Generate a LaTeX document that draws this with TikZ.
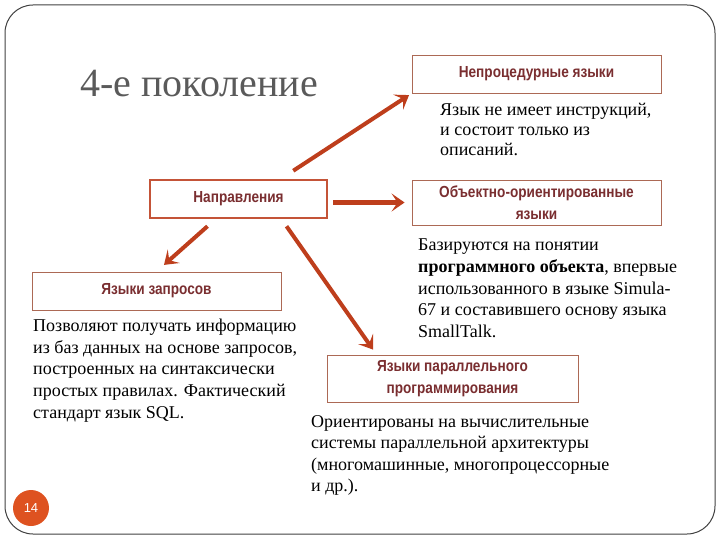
\documentclass[tikz,border=0pt]{standalone}
\usepackage{fontspec}
\setmainfont{Liberation Serif}
\newfontfamily\headfont[FakeStretch=0.85]{Liberation Sans}
\newfontfamily\numfont{Liberation Sans}
\usetikzlibrary{arrows.meta,calc}
\definecolor{arrowred}{RGB}{190,62,28}
\definecolor{boxline}{RGB}{172,105,85}
\definecolor{dirline}{RGB}{196,84,56}
\definecolor{headtext}{RGB}{122,46,48}
\definecolor{titlegray}{RGB}{90,90,90}
\definecolor{pagered}{RGB}{222,82,32}

\begin{document}
\begin{tikzpicture}[x=1pt,y=-1pt,
    kind/.style={draw=boxline,line width=0.9pt,fill=white,minimum width=249pt,minimum height=38pt,inner sep=2pt,align=center,text=headtext,font=\headfont\bfseries\fontsize{16}{21.5}\selectfont},
    body/.style={anchor=north west,inner sep=0pt,align=left,font=\fontsize{18}{21.6}\selectfont},
    arr/.style={arrowred,line width=4pt,-{Stealth[length=13pt,width=18pt,inset=6pt]}}]
    \useasboundingbox (0,0) rectangle (720,540);
    \draw[black!75,line width=1pt,rounded corners=28pt] (5,5) rectangle (715,534);
    \node[anchor=base west,inner sep=0pt,text=titlegray,font=\fontsize{40}{46}\selectfont] (title) at (80,97) {4-е поколение};

    \node[kind] (np) at (536.5,74) {Непроцедурные языки};
    \node[kind,draw=dirline,line width=2.5pt,minimum width=177pt] (dir) at (238.5,199) {Направления};
    \node[kind,minimum height=45pt] (oo) at (536.5,202.5) {Объектно-ориентированные\\ языки};
    \node[kind] (zq) at (156.5,291) {Языки запросов};
    \node[kind,minimum width=251pt,minimum height=47pt] (pp) at (452.5,378.5) {Языки параллельного\\ программирования};

    \node[body,font=\fontsize{18}{20}\selectfont] (t1) at (440,103) {Язык не имеет инструкций,\\ и состоит только из\\ описаний.};
    \node[body] (t2) at (418,239) {Базируются на понятии\\ \textbf{программного объекта}, впервые\\ использованного в языке Simula-\\ 67 и составившего основу языка\\ SmallTalk.};
    \node[body] (t3) at (33,319) {Позволяют получать информацию\\ из баз данных на основе запросов,\\ построенных на синтаксически\\ простых правилах. Фактический\\ стандарт язык SQL.};
    \node[body] (t4) at (311,415) {Ориентированы на вычислительные\\ системы параллельной архитектуры\\ (многомашинные, многопроцессорные\\ и др.).};

    \draw[arr,shorten >=3pt] ([shift={(-35,-8)}]dir.north east) -- (np.south west);
    \draw[arr,line width=5.5pt,shorten >=7pt] ($(dir.east|-oo.west)+(5,0)$) -- (oo.west);
    \draw[arr,shorten >=10pt] ([shift={(-31,7)}]dir.south) -- (zq.north);
    \draw[arr,shorten >=6pt] ([shift={(48,7)}]dir.south) -- ([xshift=50pt]pp.north west);

    \node[circle,fill=pagered,minimum size=36pt,inner sep=0pt,text=white,font=\numfont\fontsize{13}{15}\selectfont] (pg) at (31,508) {14};
\end{tikzpicture}
\end{document}
